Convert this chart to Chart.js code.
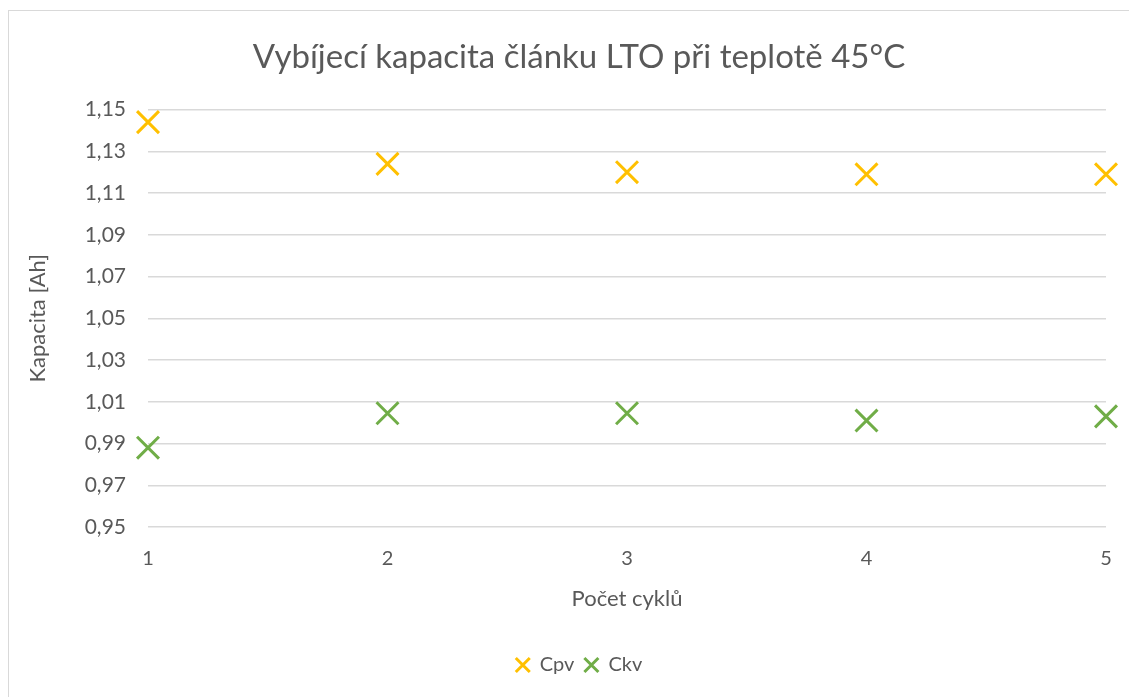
<!DOCTYPE html>
<html lang="cs">
<head>
    <meta charset="UTF-8">
    <script src="https://cdn.jsdelivr.net/npm/chart.js"></script>
    <title>Vybíjecí kapacita</title>
    <style>
        html, body {
            margin: 0;
            background: #fff;
            overflow: hidden;
        }
        #box {
            position: absolute;
            left: 8px;
            top: 10px;
            width: 1142px;
            height: 700px;
            border: 1px solid #d9d9d9;
            box-sizing: border-box;
        }
    </style>
</head>
<body>
<div id="box">
    <canvas id="chart"></canvas>
</div>
<script>
    const cycles = [1, 2, 3, 4, 5];
    const cpv = [1.144, 1.124, 1.120, 1.119, 1.119];
    const ckv = [0.988, 1.0045, 1.0045, 1.001, 1.003];
    const yTicks = [0.95, 0.97, 0.99, 1.01, 1.03, 1.05, 1.07, 1.09, 1.11, 1.13, 1.15];

    const grey = '#595959';
    const font = 'Lato, "Open Sans", sans-serif';

    function points(ys) {
        return cycles.map((x, i) => ({x: x, y: ys[i]}));
    }

    new Chart(document.getElementById('chart'), {
        type: 'scatter',
        data: {
            datasets: [{
                label: 'Cpv',
                data: points(cpv),
                pointStyle: 'crossRot',
                pointRadius: 15.5,
                pointHoverRadius: 15.5,
                borderWidth: 3,
                borderColor: '#FFC000',
                backgroundColor: '#FFC000',
                clip: false
            }, {
                label: 'Ckv',
                data: points(ckv),
                pointStyle: 'crossRot',
                pointRadius: 15.5,
                pointHoverRadius: 15.5,
                borderWidth: 3,
                borderColor: '#70AD47',
                backgroundColor: '#70AD47',
                clip: false
            }]
        },
        options: {
            responsive: true,
            maintainAspectRatio: false,
            animation: false,
            layout: {autoPadding: false, padding: {left: 12, right: 12, top: 0, bottom: 24}},
            plugins: {
                title: {
                    display: true,
                    text: 'Vybíjecí kapacita článku LTO při teplotě 45°C',
                    color: grey,
                    font: {family: font, size: 33, weight: 'normal'},
                    padding: {top: 27, bottom: 32}
                },
                legend: {
                    position: 'bottom',
                    labels: {
                        usePointStyle: true,
                        boxWidth: 14,
                        boxHeight: 14,
                        color: grey,
                        font: {family: font, size: 20},
                        padding: 10
                    }
                },
                tooltip: {enabled: false}
            },
            scales: {
                x: {
                    type: 'linear',
                    min: 1,
                    max: 5,
                    ticks: {
                        stepSize: 1,
                        color: grey,
                        font: {family: font, size: 20},
                        padding: 0
                    },
                    grid: {display: false, drawTicks: true, tickLength: 20},
                    border: {display: false},
                    title: {
                        display: true,
                        text: 'Počet cyklů',
                        color: grey,
                        font: {family: font, size: 22},
                        padding: {top: 4, bottom: 33}
                    },
                    afterFit: s => { s.height = 118; }
                },
                y: {
                    min: 0.95,
                    max: 1.15,
                    afterBuildTicks: s => { s.ticks = yTicks.map(v => ({value: v})); },
                    ticks: {
                        color: grey,
                        font: {family: font, size: 21},
                        padding: 22,
                        callback: v => v.toFixed(2).replace('.', ',')
                    },
                    grid: {color: '#d9d9d9', lineWidth: 1.5, drawTicks: false},
                    border: {display: false},
                    title: {
                        display: true,
                        text: 'Kapacita [Ah]',
                        color: grey,
                        font: {family: font, size: 22}
                    },
                    afterFit: s => { s.width = 127; }
                },
                // empty right-hand spacer so the plot ends where the original does
                spacer: {
                    position: 'right',
                    ticks: {display: false},
                    grid: {display: false, drawTicks: false},
                    border: {display: false},
                    afterFit: s => { s.width = 31; }
                }
            }
        }
    });
</script>
</body>
</html>
